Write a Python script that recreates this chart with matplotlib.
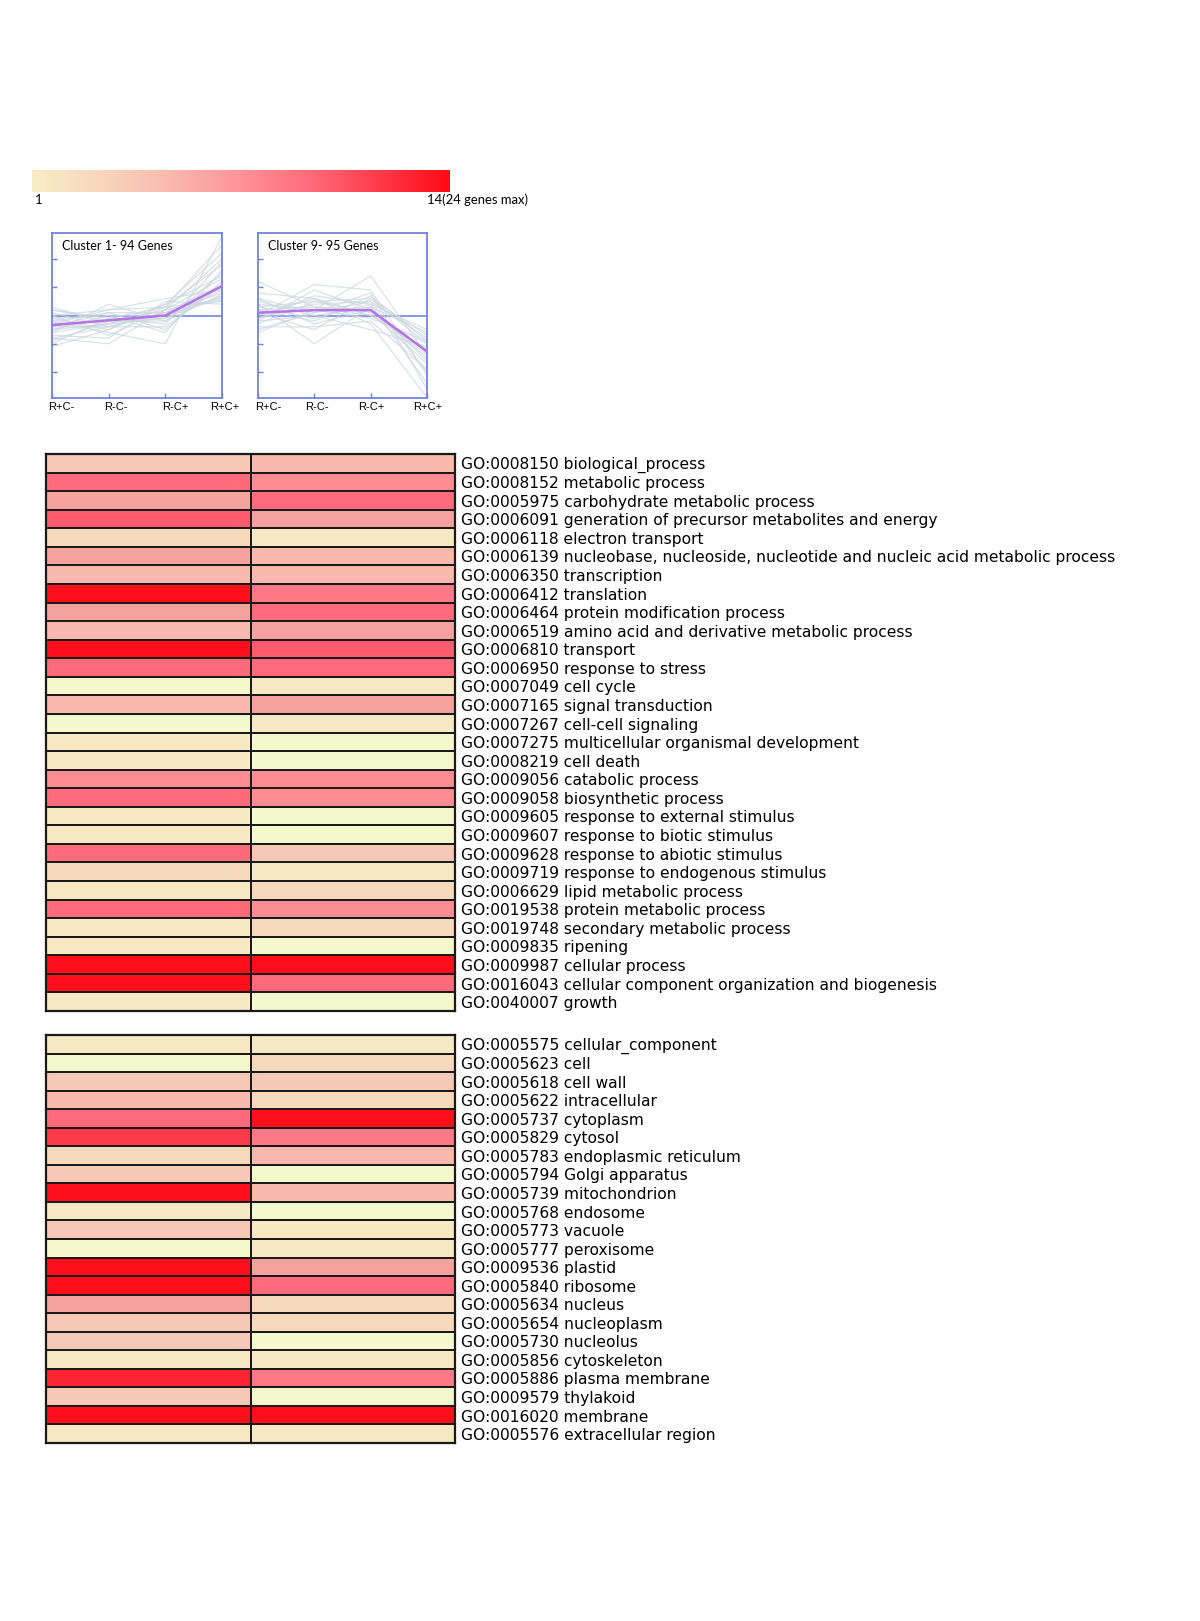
import numpy as np
import matplotlib
matplotlib.use("Agg")
import matplotlib.pyplot as plt
import matplotlib.transforms as mtransforms
from matplotlib.colors import ListedColormap, BoundaryNorm, LinearSegmentedColormap

# --- data -------------------------------------------------------------
LEVEL_COLORS = ['#F3F9CC', '#F7E9C3', '#F6D9BB', '#F7C8B5', '#F9B8AD', '#F5A29F',
                '#FF8C92', '#FF7A86', '#FF6B7A', '#FF5B6E', '#FF4A5C', '#FF3A4A',
                '#FF2432', '#FF1822', '#FF0E1C']
BAR_COLORS = ['#F7EEC6', '#F8D6BC', '#F9B9AF', '#FF9299', '#FF6B7A', '#FF3A4A', '#FF0A14']

bp_terms = [
    "GO:0008150 biological_process",
    "GO:0008152 metabolic process",
    "GO:0005975 carbohydrate metabolic process",
    "GO:0006091 generation of precursor metabolites and energy",
    "GO:0006118 electron transport",
    "GO:0006139 nucleobase, nucleoside, nucleotide and nucleic acid metabolic process",
    "GO:0006350 transcription",
    "GO:0006412 translation",
    "GO:0006464 protein modification process",
    "GO:0006519 amino acid and derivative metabolic process",
    "GO:0006810 transport",
    "GO:0006950 response to stress",
    "GO:0007049 cell cycle",
    "GO:0007165 signal transduction",
    "GO:0007267 cell-cell signaling",
    "GO:0007275 multicellular organismal development",
    "GO:0008219 cell death",
    "GO:0009056 catabolic process",
    "GO:0009058 biosynthetic process",
    "GO:0009605 response to external stimulus",
    "GO:0009607 response to biotic stimulus",
    "GO:0009628 response to abiotic stimulus",
    "GO:0009719 response to endogenous stimulus",
    "GO:0006629 lipid metabolic process",
    "GO:0019538 protein metabolic process",
    "GO:0019748 secondary metabolic process",
    "GO:0009835 ripening",
    "GO:0009987 cellular process",
    "GO:0016043 cellular component organization and biogenesis",
    "GO:0040007 growth",
]
bp_cluster1 = [3, 8, 5, 9, 2, 5, 4, 14, 5, 4, 14, 8, 0, 4, 0, 1, 1, 6, 8, 1, 1, 8, 2, 1, 8, 1, 1, 14, 14, 1]
bp_cluster9 = [4, 6, 8, 5, 1, 4, 4, 7, 8, 5, 9, 8, 1, 5, 1, 0, 0, 6, 6, 0, 0, 3, 1, 2, 6, 2, 0, 14, 8, 0]

cc_terms = [
    "GO:0005575 cellular_component",
    "GO:0005623 cell",
    "GO:0005618 cell wall",
    "GO:0005622 intracellular",
    "GO:0005737 cytoplasm",
    "GO:0005829 cytosol",
    "GO:0005783 endoplasmic reticulum",
    "GO:0005794 Golgi apparatus",
    "GO:0005739 mitochondrion",
    "GO:0005768 endosome",
    "GO:0005773 vacuole",
    "GO:0005777 peroxisome",
    "GO:0009536 plastid",
    "GO:0005840 ribosome",
    "GO:0005634 nucleus",
    "GO:0005654 nucleoplasm",
    "GO:0005730 nucleolus",
    "GO:0005856 cytoskeleton",
    "GO:0005886 plasma membrane",
    "GO:0009579 thylakoid",
    "GO:0016020 membrane",
    "GO:0005576 extracellular region",
]
cc_cluster1 = [1, 0, 3, 4, 8, 11, 2, 3, 14, 1, 3, 0, 14, 14, 5, 3, 3, 1, 12, 3, 14, 1]
cc_cluster9 = [1, 2, 3, 2, 14, 7, 4, 0, 4, 0, 1, 1, 5, 8, 2, 2, 0, 1, 7, 0, 14, 1]

conditions = ["R+C-", "R-C-", "R-C+", "R+C+"]

c1_title = "Cluster 1- 94 Genes"
c1_mean = [-0.34, -0.17, 0.0, 1.04]
c1_genes = [
    [-0.3, -0.2, 0.0, 1.0], [0.1, -0.4, 0.1, 0.8], [-0.6, 0.4, -0.2, 1.5],
    [-0.8, -1.0, 0.2, 0.6], [0.2, -0.1, -0.3, 1.9], [-0.4, 0.1, -0.5, 1.2],
    [-1.1, -0.5, 0.3, 0.5], [-0.2, -0.6, -1.0, 2.8], [0.0, 0.2, 0.6, 0.9],
    [-0.5, -0.3, 0.4, 2.2], [-0.9, -0.2, -0.1, 0.7], [0.3, -0.3, 0.2, 1.3],
    [-0.7, -0.8, 0.5, 0.4], [-0.1, 0.0, -0.6, 1.6], [-0.4, -0.4, 0.1, 0.55],
    [-1.0, -0.1, 0.3, 2.5], [-0.2, 0.1, 0.1, 1.1], [-0.6, -0.3, -0.1, 0.9],
    [-0.1, -0.5, 0.4, 1.4], [0.2, -0.2, -0.2, 0.75], [-0.3, 0.2, 0.3, 1.8],
    [-0.8, -0.4, -0.4, 1.05], [0.0, -0.7, 0.2, 2.0], [-0.5, 0.0, 0.0, 0.65],
]

c9_title = "Cluster 9- 95 Genes"
c9_mean = [0.1, 0.19, 0.19, -1.27]
c9_genes = [
    [0.3, 0.5, 0.6, -1.0], [-0.2, 0.9, 0.2, -1.5], [0.6, 0.1, 0.5, -0.8],
    [-0.4, -0.4, -0.2, -1.9], [1.2, 0.3, 0.0, -1.2], [0.0, 1.1, 0.9, -2.1],
    [0.4, -1.0, 0.3, -0.6], [-0.6, 0.2, 1.4, -1.4], [0.8, 0.6, -0.3, -2.9],
    [0.2, -0.2, 0.7, -0.9], [-0.3, 0.5, 0.1, -1.7], [0.5, 0.0, -0.5, -1.1],
    [-0.1, 0.7, 0.4, -2.4], [0.1, -0.5, 0.6, -0.7], [0.2, 0.3, 0.2, -1.3],
    [-0.2, 0.0, 0.3, -1.6], [0.4, 0.2, -0.1, -0.9], [-0.1, 0.4, 0.5, -2.0],
    [0.6, -0.3, 0.2, -1.4], [0.0, 0.6, 0.0, -1.0], [-0.5, 0.1, 0.8, -2.6],
    [0.3, -0.1, 0.4, -0.5],
]

# --- layout helpers ---------------------------------------------------
W, H = 1200, 1621
fig = plt.figure(figsize=(W / 100, H / 100), dpi=100)


def add_ax(x0, y0, x1, y1):
    # pixel box (top-left origin) -> figure axes
    return fig.add_axes([x0 / W, 1 - y1 / H, (x1 - x0) / W, (y1 - y0) / H])


LABEL_FONT = ["DejaVu Sans"]
TICK_FONT = ["Liberation Sans", "DejaVu Sans"]
SMALL_FONT = ["Lato", "DejaVu Sans"]
BLUE = "#6F83DA"

# --- colour scale bar -------------------------------------------------
bar_cmap = LinearSegmentedColormap.from_list("bar", BAR_COLORS)
ax_bar = add_ax(32, 170, 450, 192)
ax_bar.imshow(np.linspace(0, 1, 256)[None, :], aspect="auto", cmap=bar_cmap)
ax_bar.axis("off")
fig.text(35 / W, 1 - 200 / H, "1", fontsize=9.4, family=SMALL_FONT, va="center", ha="left")
fig.text(528 / W, 1 - 200 / H, "14(24 genes max)", fontsize=9.4, family=SMALL_FONT,
         va="center", ha="right")


# --- cluster profile panels --------------------------------------------
def draw_cluster(ax, title, genes, mean, label_shift):
    x = np.arange(len(conditions))
    ax.axhline(0, color=BLUE, lw=1.2, zorder=1)
    for g in genes:
        ax.plot(x, g, color="#CAD6DE", lw=0.9, alpha=0.7, zorder=2)
    ax.plot(x, mean, color="#B473E6", lw=1.8, zorder=3)
    ax.set_xlim(0, 3)
    ax.set_ylim(-2.92, 2.92)
    ax.set_yticks([-2, -1, 1, 2])
    ax.set_yticklabels([])
    ax.set_xticks(x)
    ax.set_xticklabels(conditions, fontsize=8, family=TICK_FONT)
    ax.tick_params(axis="both", direction="in", color=BLUE, length=3.5, width=1)
    ax.tick_params(axis="x", pad=3)
    for lab, dx in zip(ax.get_xticklabels(), label_shift):
        lab.set_transform(lab.get_transform() +
                          mtransforms.ScaledTranslation(dx / 100, 0, fig.dpi_scale_trans))
    for s in ax.spines.values():
        s.set_color(BLUE)
        s.set_linewidth(1.3)
    ax.text(0.06, 0.96, title, transform=ax.transAxes, fontsize=9, family=SMALL_FONT,
            va="top", ha="left")


draw_cluster(add_ax(52, 233, 222, 398), c1_title, c1_genes, c1_mean, [9, 7, 10, 3])
draw_cluster(add_ax(258, 233, 427, 398), c9_title, c9_genes, c9_mean, [10, 3, 1, 1])

# --- GO heatmaps ---------------------------------------------------------
level_cmap = ListedColormap(LEVEL_COLORS)
level_norm = BoundaryNorm(np.arange(-0.5, 15.5, 1), level_cmap.N)


def draw_heat(ax, terms, left, right):
    vals = np.array([left, right]).T
    n = len(terms)
    ax.pcolormesh(np.arange(3), np.arange(n + 1), vals, cmap=level_cmap, norm=level_norm,
                  edgecolors="#1a1a1a", linewidth=1.2)
    ax.set_xlim(0, 2)
    ax.set_ylim(n, 0)
    ax.set_xticks([])
    ax.set_yticks([])
    for s in ax.spines.values():
        s.set_color("#1a1a1a")
        s.set_linewidth(1.6)
    for i, t in enumerate(terms):
        ax.text(2.03, i + 0.6, t, fontsize=11.2, family=LABEL_FONT, va="center", ha="left",
                clip_on=False)


draw_heat(add_ax(46, 454, 455, 1011), bp_terms, bp_cluster1, bp_cluster9)
draw_heat(add_ax(46, 1035, 455, 1443), cc_terms, cc_cluster1, cc_cluster9)

fig.savefig("out.png", dpi=100, facecolor="white")
